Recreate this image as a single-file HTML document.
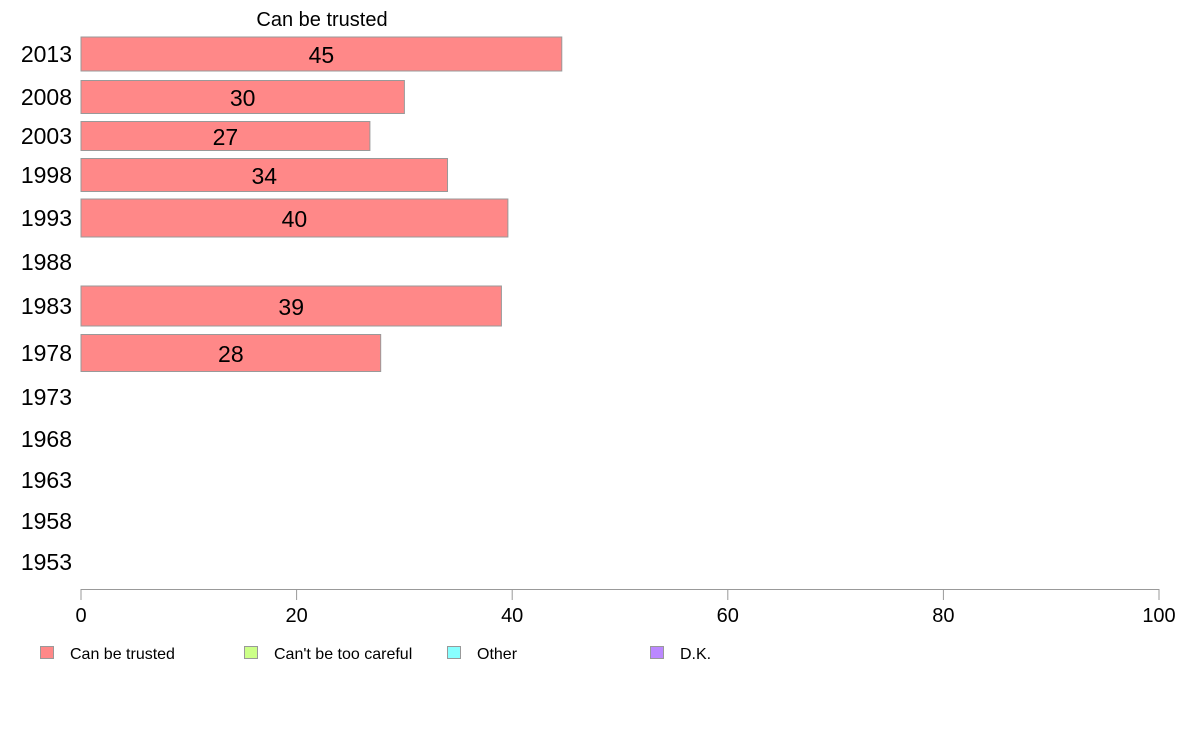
<!DOCTYPE html>
<html><head><meta charset="utf-8"><style>
body{margin:0;background:#fff;width:1188px;height:736px;overflow:hidden;font-family:"Liberation Sans",sans-serif}
</style></head><body>
<svg id="chart" width="1188" height="736" xmlns="http://www.w3.org/2000/svg" font-family="Liberation Sans, sans-serif">
<text x="322" y="26" font-size="20" text-anchor="middle">Can be trusted</text>
<g id="bars"></g>
<g id="axis"></g>
<g id="legend"></g>
</svg>
<script>
const years = ["2013","2008","2003","1998","1993","1988","1983","1978","1973","1968","1963","1958","1953"];
const trusted = [44.6, 30.0, 26.8, 34.0, 39.6, null, 39.0, 27.8, null, null, null, null, null];
const valueLabels = ["45","30","27","34","40","","39","28","","","","",""];
const xTicks = [0, 20, 40, 60, 80, 100];
const legendLabels = ["Can be trusted","Can't be too careful","Other","D.K."];
const legendColors = ["#ff8888","#ccff88","#88ffff","#bb88ff"];
// layout (row centers and band heights, pixels)
const rowCenter = [54,97,136,175,218,262,306,353,397,439,480,521,562];
const rowHeight = [34,33,29,33,38,0,40,37,0,0,0,0,0];
const NS="http://www.w3.org/2000/svg";
const x = v => 81 + v*(1159-81)/100;
function mk(tag, attrs, parent){const e=document.createElementNS(NS,tag);for(const k in attrs)e.setAttribute(k,attrs[k]);parent.appendChild(e);return e;}
const bars=document.getElementById('bars'), axis=document.getElementById('axis'), legend=document.getElementById('legend');
years.forEach((y,i)=>{
  const t=mk('text',{x:72,y:rowCenter[i]+8,'font-size':23,'text-anchor':'end'},bars);
  
  
  t.textContent=y;
  if(trusted[i]!=null){
    const h=rowHeight[i];
    const r=mk('rect',{x:x(0),y:rowCenter[i]-h/2,width:x(trusted[i])-x(0),height:h,fill:'#ff8888',stroke:'#999',"stroke-width":1},bars);
    
    
    const l=mk('text',{x:(x(0)+x(trusted[i]))/2,y:rowCenter[i]+9,'font-size':23,'text-anchor':'middle'},bars);
    
    
    l.textContent=valueLabels[i];
  }
});
const al=mk('line',{x1:x(0),x2:x(100),y1:589.5,y2:589.5,stroke:'#999'},axis);


xTicks.forEach(v=>{
  const tk=mk('line',{x1:x(v),x2:x(v),y1:589,y2:600,stroke:'#999'},axis);
  
  
  const tl=mk('text',{x:x(v),y:622,'font-size':20,'text-anchor':'middle'},axis);
  
  
  tl.textContent=v;
});
const legX=[40,244,447,650];
legendLabels.forEach((s,i)=>{
  const r=mk('rect',{x:legX[i]+0.5,y:646.5,width:13,height:12,fill:legendColors[i],stroke:'#999'},legend);
  
  
  const t=mk('text',{x:legX[i]+30,y:659,'font-size':16},legend);
  
  
  t.textContent=s;
});
</script>
</body></html>
